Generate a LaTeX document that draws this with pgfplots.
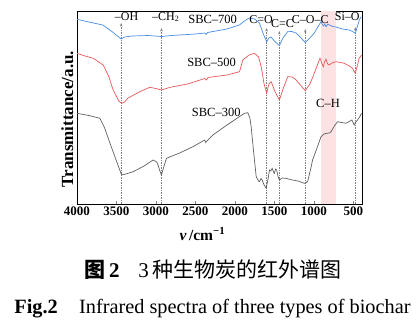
\documentclass[border=0pt]{standalone}
\usepackage{pgfplots}
\pgfplotsset{compat=1.18}
\usepackage{fontspec}
\setmainfont{Liberation Serif}
\newfontfamily\cjk{Noto Sans CJK SC}
\usetikzlibrary{arrows.meta}
\definecolor{cblue}{RGB}{72,140,228}
\definecolor{cred}{RGB}{232,88,90}
\definecolor{cgray}{RGB}{95,95,95}
\definecolor{cpink}{RGB}{252,226,226}
\tikzset{mk/.style={gray, line width=0.5pt, dash pattern=on 2pt off 1.2pt on 0.6pt off 1.2pt, -{Stealth[length=3.5pt,width=2.5pt]}}}
\begin{document}
\begin{tikzpicture}
\useasboundingbox (-77pt,-121pt) rectangle (343pt,204pt);
\begin{axis}[
  at={(0,0)}, anchor=south west,
  scale only axis, width=285pt, height=193pt,
  x dir=reverse, xmin=390, xmax=4000, ymin=0, ymax=193,
  xtick={500,1000,1500,2000,2500,3000,3500,4000},
  ytick=\empty,
  tick align=inside, xtick pos=bottom,
  major tick length=3pt,
  axis line style={line width=0.8pt},
  /pgf/number format/assume math mode=true,
  /pgf/number format/1000 sep={},
  xticklabel style={font=\fontsize{13}{15}\selectfont\bfseries, yshift=1pt},
  xlabel={{\bfseries\itshape ν}\,\textbf{/cm}\textsuperscript{\textbf{−1}}},
  xlabel style={font=\fontsize{15.5}{17}\selectfont, at={(axis description cs:0.44,0)}, anchor=base, yshift=-36pt},
  ylabel={\textbf{Transmittance/a.u.}},
  ylabel style={font=\fontsize{17}{19}\selectfont, at={(axis description cs:0,0.46)}, anchor=south, rotate=0, xshift=-4pt},
  clip=false,
]
\fill[cpink] (axis cs:910,0) rectangle (axis cs:720,193);
\draw[mk] (axis cs:3440,0) -- (axis cs:3440,181);
\draw[mk] (axis cs:2930,0) -- (axis cs:2930,176);
\draw[mk] (axis cs:1598,0) -- (axis cs:1598,176);
\draw[mk] (axis cs:1437,0) -- (axis cs:1437,173);
\draw[mk] (axis cs:1108,0) -- (axis cs:1108,175);
\draw[mk] (axis cs:475,0) -- (axis cs:475,177);
\addplot[cblue, line width=0.7pt] table {
4000 184.7
3850 182
3673 179
3550 172
3440 165
3400 167
3300 168
3100 168.5
2930 167.5
2800 168.5
2500 170
2380 171
2365 169.5
2345 171.5
2100 175
1943 179
1880 183
1817 186
1750 185
1690 181
1640 170
1598 162.3
1570 166
1542 167
1500 163
1437 158.3
1390 166
1332 172.3
1280 172.5
1225 171
1160 166
1108 161.3
1050 166
994 171
950 177
909 182.3
880 178
860 180
846 177.3
820 180
804 179
760 177.5
719 177
680 176
639 175
551 174
500 172
475 170.7
450 177
424 184
400 187.3
};
\addplot[cred, line width=0.7pt] table {
4000 150.7
3900 148
3794 145.7
3668 139
3600 128
3542 114
3470 103
3435 100.7
3400 102
3352 106
3204 112.3
3078 116.7
3000 115.5
2930 114
2850 116
2784 117.3
2600 120
2380 125.5
2362 124
2340 126.5
2100 129
1941 132.3
1900 144
1820 149
1752 150.7
1700 147
1667 137.3
1630 120
1597 110.7
1570 120
1541 122.3
1490 112
1436 104
1390 115
1331 127.3
1270 127
1225 124
1160 118
1108 113.3
1050 120
994 130.7
950 140
922 145.7
900 141
880 137.3
865 142
846 144.7
825 140
804 139
770 141
720 142.3
660 141.5
615 140.7
560 138.5
510 135.7
476 130.7
450 138
426 145.7
395 149
};
\addplot[cgray, line width=0.7pt] table {
4000 90.7
3850 88.5
3710 85.7
3650 76
3583 61
3500 43
3435 29
3380 30
3289 32.3
3150 38
3036 44
2990 42
2973 39
2950 33
2930 29
2905 36
2867 45.7
2700 51
2531 57.3
2383 64
2370 61.5
2355 63
2279 69
2100 79
1878 90.7
1836 91.3
1810 86
1794 77.3
1760 50
1730 27.3
1700 23
1689 22.3
1670 25.5
1655 24
1630 19
1604 15.7
1580 25
1562 34
1545 33
1528 35.7
1510 32
1499 30.7
1485 35
1470 34
1455 28
1436 24
1400 26
1352 25.7
1300 24.5
1268 24
1200 23
1120 20.7
1079 22.3
1040 35
1016 44
960 56
909 67.3
870 70
846 70.7
800 71
783 72.3
740 78
700 82.3
650 81.5
594 80.7
540 83
518 84
489 79
470 82
447 84
420 87
397 90.7
};
\node[font=\fontsize{12}{14}\selectfont, inner sep=0pt] at (axis cs:3372,187) {–OH};
\node[font=\fontsize{12}{14}\selectfont, inner sep=0pt] at (axis cs:2876,187) {–CH\textsubscript{2}};
\node[font=\fontsize{12.5}{14}\selectfont, inner sep=0pt] at (axis cs:2282,185) {SBC–700};
\node[font=\fontsize{12.5}{14}\selectfont, inner sep=0pt] at (axis cs:2295,141.5) {SBC–500};
\node[font=\fontsize{12.5}{14}\selectfont, inner sep=0pt] at (axis cs:2236,91.5) {SBC–300};
\node[font=\fontsize{12}{14}\selectfont, inner sep=0pt] at (axis cs:1667,184.5) {C=O};
\node[font=\fontsize{12}{14}\selectfont, inner sep=0pt] at (axis cs:1398,180) {C=C};
\node[font=\fontsize{12}{14}\selectfont, inner sep=0pt] at (axis cs:1045,184.5) {C–O–C};
\node[font=\fontsize{12}{14}\selectfont, inner sep=0pt] at (axis cs:577,187) {Si–O};
\node[font=\fontsize{12.5}{14}\selectfont, inner sep=0pt] at (axis cs:821,101) {C–H};
\end{axis}
\node[font=\fontsize{21}{23}\selectfont, inner sep=0pt] at (136pt,-66pt) {{\cjk\bfseries 图}\,\textbf{2}\hspace{0.9em}3\,{\cjk 种生物炭的红外谱图}};
\node[font=\fontsize{20.3}{22}\selectfont, inner sep=0pt, anchor=base] at (135.5pt,-109pt) {\textbf{Fig.2}\hspace{1.05em}Infrared spectra of three types of biochar};
\end{tikzpicture}
\end{document}
